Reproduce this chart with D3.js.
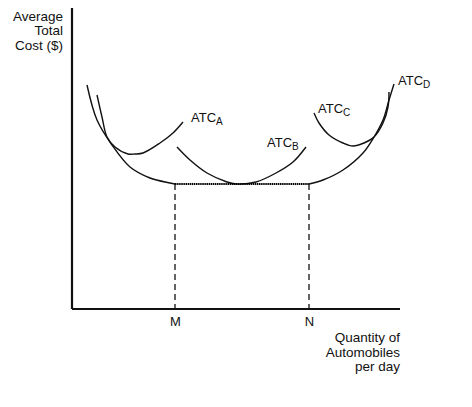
<!DOCTYPE html>
<html>
<head>
<meta charset="utf-8">
<script src="https://cdn.jsdelivr.net/npm/d3@7"></script>
<style>
  body { margin: 0; background: #fff; }
  text { font-family: "Liberation Sans", Arial, sans-serif; fill: #111; }
</style>
</head>
<body>
<div id="chart"></div>
<script>
// Set up chart:
var svgWidth = 472;
var svgHeight = 407;

// Origin of the axes and their far ends (pixels)
var chartMargin = { top: 8, right: 72, bottom: 98, left: 72 };
var chartWidth = svgWidth - chartMargin.left - chartMargin.right;
var chartHeight = svgHeight - chartMargin.top - chartMargin.bottom;

// Quantity ticks
var tickLabels = ["M", "N"];
var tickValues = [103, 237];
var minCost = 125;

// Curves: [quantity, cost]
var atcA = [[25, 214], [30, 192], [35, 172], [43, 162], [56, 155], [63, 155], [71, 156], [88, 166], [101, 176], [111, 187]];
var atcB = [[105, 162], [118, 149], [135, 136], [155, 127], [164, 125], [184, 127], [204, 136], [221, 147], [234, 162]];
var atcC = [[242, 196], [247, 186], [257, 174], [271, 166], [281, 163], [292, 166], [302, 172], [311, 186], [316, 202], [317, 217]];
var atcD = [[15, 224], [25, 189], [40, 164], [58, 142], [78, 131], [98, 126], [103, 125], [237, 125], [251, 129], [271, 139],
            [291, 156], [302, 172], [311, 189], [317, 209], [322, 225]];

var curveLabels = [
  { name: "ATC", sub: "A", q: 119, c: 187 },
  { name: "ATC", sub: "B", q: 195, c: 162 },
  { name: "ATC", sub: "C", q: 246, c: 196 },
  { name: "ATC", sub: "D", q: 326, c: 224 }
];

var svg = d3.select("#chart")
  .append("svg")
  .attr("width", svgWidth)
  .attr("height", svgHeight);

var chartGroup = svg.append("g")
  .attr("transform", `translate(${chartMargin.left}, ${chartMargin.top})`);

// Create Scales
var xLinearScale = d3.scaleLinear().domain([0, chartWidth]).range([0, chartWidth]);
var yLinearScale = d3.scaleLinear().domain([0, chartHeight]).range([chartHeight, 0]);

var line = d3.line()
  .x(d => xLinearScale(d[0]))
  .y(d => yLinearScale(d[1]))
  .curve(d3.curveCatmullRom.alpha(0.5));

// Dashed guides down from the flat bottom
chartGroup.selectAll(".guide")
  .data(tickValues)
  .enter()
  .append("line")
  .attr("x1", d => xLinearScale(d))
  .attr("x2", d => xLinearScale(d))
  .attr("y1", yLinearScale(minCost))
  .attr("y2", chartHeight)
  .attr("stroke", "#111")
  .attr("stroke-width", 1.3)
  .attr("stroke-dasharray", "6,4");

// Curves
[atcA, atcB, atcC].forEach(function(pts) {
  chartGroup.append("path")
    .attr("d", line(pts))
    .attr("fill", "none")
    .attr("stroke", "#111")
    .attr("stroke-width", 1.4);
});

// ATC_D: solid branches, dotted flat bottom
chartGroup.append("path")
  .attr("d", line(atcD.filter(d => d[0] <= tickValues[0])))
  .attr("fill", "none").attr("stroke", "#111").attr("stroke-width", 1.4);
chartGroup.append("path")
  .attr("d", line(atcD.filter(d => d[0] >= tickValues[1])))
  .attr("fill", "none").attr("stroke", "#111").attr("stroke-width", 1.4);
chartGroup.append("line")
  .attr("x1", xLinearScale(tickValues[0]))
  .attr("x2", xLinearScale(tickValues[1]))
  .attr("y1", yLinearScale(minCost))
  .attr("y2", yLinearScale(minCost))
  .attr("stroke", "#000")
  .attr("stroke-width", 1.8)
  .attr("stroke-dasharray", "1.5,0.6");

// Curve labels with subscripts
curveLabels.forEach(function(l) {
  var t = chartGroup.append("text")
    .attr("x", xLinearScale(l.q))
    .attr("y", yLinearScale(l.c))
    .style("font-size", "13px");
  t.append("tspan").text(l.name);
  t.append("tspan").attr("dy", 3).style("font-size", "10px").text(l.sub);
});

// Axes
var bottomAxis = d3.axisBottom(xLinearScale)
  .tickValues(tickValues)
  .tickSize(0)
  .tickPadding(8)
  .tickFormat((d, i) => tickLabels[i]);

var xAxis = chartGroup.append("g")
  .attr("transform", `translate(0, ${chartHeight})`)
  .call(bottomAxis);
xAxis.select(".domain").attr("stroke", "#111").attr("stroke-width", 2.2).attr("d", `M0,0H${chartWidth}`);
xAxis.selectAll("text").style("font-size", "13px").attr("font-family", null).attr("fill", "#111");

var leftAxis = d3.axisLeft(yLinearScale).tickValues([]).tickSize(0);
var yAxis = chartGroup.append("g").call(leftAxis);
yAxis.select(".domain").attr("stroke", "#111").attr("stroke-width", 2.2).attr("d", `M0,${chartHeight}V0`);

// Axis titles
var yTitle = chartGroup.append("text")
  .attr("text-anchor", "end")
  .style("font-size", "13.5px")
  .attr("transform", "translate(-9, 0)");
["Average", "Total", "Cost ($)"].forEach(function(s, i) {
  yTitle.append("tspan").attr("x", 0).attr("y", 12.5 + i * 14.5).text(s);
});

var xTitle = chartGroup.append("text")
  .attr("text-anchor", "end")
  .style("font-size", "13.5px")
  .attr("transform", `translate(${chartWidth}, ${chartHeight})`);
["Quantity of", "Automobiles", "per day"].forEach(function(s, i) {
  xTitle.append("tspan").attr("x", 0).attr("y", 33 + i * 14.5).text(s);
});
</script>
</body>
</html>
